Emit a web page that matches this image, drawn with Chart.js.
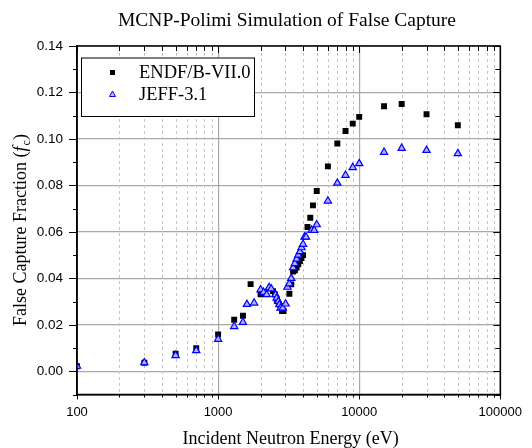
<!DOCTYPE html>
<html><head><meta charset="utf-8">
<script src="https://cdn.jsdelivr.net/npm/chart.js@4.4.1/dist/chart.umd.min.js"></script>
<style>html,body{margin:0;padding:0;background:#fff}</style>
</head><body>
<canvas id="c" width="532" height="448"></canvas>
<script>
const chartTitle = 'MCNP-Polimi Simulation of False Capture';
const xAxisTitle = 'Incident Neutron Energy (eV)';
const yAxisTitle = 'False Capture Fraction (';
const seriesNames = ['ENDF/B-VII.0', 'JEFF-3.1'];

const endfEnergy = [100, 300, 500, 700, 1000, 1300, 1500, 1700, 2000, 2100,
  2450, 2530, 2610, 2690, 2770, 2840, 2910, 3200, 3300, 3400,
  3500, 3600, 3700, 3800, 3900, 4000, 4300, 4500, 4700, 5000,
  6000, 7000, 8000, 9000, 10000, 15000, 20000, 30000, 50000];
const endfFraction = [0.0022, 0.0037, 0.0075, 0.0099, 0.0158, 0.0222, 0.0239, 0.0375, 0.0331, 0.0336,
  0.0345, 0.0331, 0.0308, 0.0290, 0.0276, 0.0259, 0.0259, 0.0334, 0.0374, 0.0429,
  0.0435, 0.0446, 0.0461, 0.0475, 0.0487, 0.0500, 0.0621, 0.0661, 0.0714, 0.0776,
  0.0882, 0.0980, 0.1034, 0.1066, 0.1095, 0.1141, 0.1150, 0.1106, 0.1059];

const jeffEnergy = [100, 300, 500, 700, 1000, 1300, 1500, 1600, 1800, 2000,
  2100, 2210, 2300, 2380, 2550, 2600, 2670, 2720, 2770, 2870,
  3010, 3100, 3200, 3300, 3400, 3500, 3600, 3700, 3800, 3900,
  4000, 4100, 4200, 4600, 4800, 5000, 6000, 7000, 8000, 9000,
  10000, 15000, 20000, 30000, 50000];
const jeffFraction = [0.0022, 0.0037, 0.0068, 0.0089, 0.0138, 0.0193, 0.0211, 0.0288, 0.0294, 0.0351,
  0.0340, 0.0330, 0.0361, 0.0355, 0.0330, 0.0315, 0.0301, 0.0287, 0.0272, 0.0272,
  0.0290, 0.0362, 0.0377, 0.0400, 0.0446, 0.0464, 0.0483, 0.0500, 0.0515, 0.0532,
  0.0547, 0.0578, 0.0578, 0.0607, 0.0607, 0.0631, 0.0733, 0.0810, 0.0844, 0.0877,
  0.0894, 0.0943, 0.0960, 0.0951, 0.0937];

const xTickValues = [100, 200, 300, 400, 500, 600, 700, 800, 900,
  1000, 2000, 3000, 4000, 5000, 6000, 7000, 8000, 9000,
  10000, 20000, 30000, 40000, 50000, 60000, 70000, 80000, 90000, 100000];
const xTickLabels = {100: '100', 1000: '1000', 10000: '10000', 100000: '100000'};
const yTickValues = [-0.01, 0.00, 0.01, 0.02, 0.03, 0.04, 0.05, 0.06, 0.07, 0.08, 0.09, 0.10, 0.11, 0.12, 0.13, 0.14];
const yTickLabels = ['', '0.00', '', '0.02', '', '0.04', '', '0.06', '', '0.08', '', '0.10', '', '0.12', '', '0.14'];

const SERIF = '"Liberation Serif", "Times New Roman", serif';
const SANS = '"Liberation Sans", Arial, sans-serif';
const isDecade = v => Math.abs(Math.log10(v) - Math.round(Math.log10(v))) < 1e-9;
const isMajorY = v => Math.round(v * 100) % 2 === 0;

const toPoints = (xs, ys) => xs.map((x, i) => ({x, y: ys[i]}));

const decor = {
  id: 'decor',
  beforeDatasetsDraw(chart) {
    const {ctx, chartArea: a, scales: {x}} = chart;
    ctx.save();
    ctx.strokeStyle = '#c6c6c6';
    ctx.lineWidth = 1;
    ctx.setLineDash([3, 3]);
    x.ticks.forEach(t => {
      if (isDecade(t.value)) return;
      const px = Math.round(x.getPixelForValue(t.value)) + 0.5;
      ctx.beginPath(); ctx.moveTo(px, a.top + 1); ctx.lineTo(px, a.bottom - 1); ctx.stroke();
    });
    ctx.restore();
  },
  afterDatasetsDraw(chart) {
    const {ctx, chartArea: a, scales: {x, y}} = chart;
    ctx.save();
    ctx.strokeStyle = '#000';
    ctx.lineWidth = 1.5;
    ctx.strokeRect(a.left, a.top, a.right - a.left, a.bottom - a.top);
    ctx.lineWidth = 1;
    ctx.beginPath();
    y.ticks.forEach(t => {
      const py = Math.round(y.getPixelForValue(t.value)) + 0.5;
      const major = isMajorY(t.value);
      ctx.moveTo(a.left, py); ctx.lineTo(a.left - (major ? 8 : 4), py);
      ctx.moveTo(a.right, py); ctx.lineTo(a.right - (major ? 7 : 5), py);
    });
    x.ticks.forEach(t => {
      const px = Math.round(x.getPixelForValue(t.value)) + 0.5;
      const major = isDecade(t.value);
      ctx.moveTo(px, a.bottom); ctx.lineTo(px, a.bottom + (major ? 5 : 3));
      ctx.moveTo(px, a.top); ctx.lineTo(px, a.top + (major ? 7 : 5));
    });
    ctx.stroke();
    ctx.restore();
  },
  afterDraw(chart) {
    const {ctx, chartArea: a} = chart;
    ctx.save();
    ctx.fillStyle = '#000';
    // main title
    ctx.font = '19.5px ' + SERIF;
    ctx.textAlign = 'center';
    ctx.textBaseline = 'alphabetic';
    ctx.fillText(chartTitle, 287, 26);
    // x title
    ctx.font = '18px ' + SERIF;
    ctx.fillText(xAxisTitle, (a.left + a.right) / 2 + 2, 444);
    // y title (rotated, with italic f and subscript c)
    ctx.save();
    ctx.translate(26, 230);
    ctx.rotate(-Math.PI / 2);
    ctx.textAlign = 'left';
    const fN = '18px ' + SERIF, fI = 'italic 18px ' + SERIF, fS = '12px ' + SERIF;
    ctx.font = fN; const w1 = ctx.measureText(yAxisTitle).width;
    ctx.font = fI; const w2 = ctx.measureText('f').width + 1;
    ctx.font = fS; const w3 = ctx.measureText('c').width;
    ctx.font = fN; const w4 = ctx.measureText(')').width;
    let cx = -(w1 + w2 + w3 + w4) / 2;
    ctx.font = fN; ctx.fillText(yAxisTitle, cx, 0); cx += w1;
    ctx.font = fI; ctx.fillText('f', cx, 0); cx += w2;
    ctx.font = fS; ctx.fillText('c', cx, 4); cx += w3;
    ctx.font = fN; ctx.fillText(')', cx, 0);
    ctx.restore();
    // legend
    const lx = 81, ly = 57.5, lw = 173, lh = 58.5;
    ctx.fillStyle = '#fff';
    ctx.fillRect(lx, ly, lw, lh);
    ctx.strokeStyle = '#000';
    ctx.lineWidth = 1;
    ctx.strokeRect(lx + 0.5, ly + 0.5, lw, lh);
    ctx.fillStyle = '#000';
    ctx.fillRect(110, 70, 5, 5);
    ctx.beginPath();
    ctx.moveTo(112.5, 91); ctx.lineTo(115.5, 96.5); ctx.lineTo(109.5, 96.5); ctx.closePath();
    ctx.fillStyle = '#b8b8ff'; ctx.fill();
    ctx.strokeStyle = '#0000ff'; ctx.lineWidth = 1; ctx.stroke();
    ctx.fillStyle = '#000';
    ctx.font = '18.5px ' + SERIF;
    ctx.textAlign = 'left';
    ctx.textBaseline = 'middle';
    ctx.fillText(seriesNames[0], 139, 73);
    ctx.fillText(seriesNames[1], 139, 95);
    ctx.restore();
  }
};

new Chart(document.getElementById('c'), {
  type: 'scatter',
  data: {
    datasets: [
      {
        label: seriesNames[0],
        data: toPoints(endfEnergy, endfFraction),
        pointStyle: 'rect',
        pointRadius: 4.2,
        pointHoverRadius: 4.2,
        backgroundColor: '#000',
        borderColor: '#000',
        borderWidth: 0,
        order: 2
      },
      {
        label: seriesNames[1],
        data: toPoints(jeffEnergy, jeffFraction),
        pointStyle: 'triangle',
        pointRadius: 4.2,
        pointHoverRadius: 4.2,
        backgroundColor: '#b0b0ff',
        borderColor: '#0000ff',
        borderWidth: 1.2,
        order: 1
      }
    ]
  },
  options: {
    responsive: false,
    animation: false,
    devicePixelRatio: 1,
    layout: {padding: {top: 46, right: 25.5, bottom: 0, left: 0}},
    plugins: {legend: {display: false}, title: {display: false}, tooltip: {enabled: false}},
    scales: {
      x: {
        type: 'logarithmic',
        position: 'bottom',
        min: 100,
        max: 100000,
        afterBuildTicks: s => { s.ticks = xTickValues.map(v => ({value: v, major: isDecade(v)})); },
        afterFit: s => { s.height = 53.5; },
        ticks: {
          autoSkip: false,
          maxRotation: 0,
          padding: 10,
          color: '#000',
          font: {family: SANS, size: 13},
          callback: v => xTickLabels[v] || ''
        },
        grid: {
          drawTicks: false,
          lineWidth: 1.2,
          color: c => (c.tick && isDecade(c.tick.value)) ? '#a8a8a8' : 'rgba(0,0,0,0)'
        },
        border: {display: true, color: '#000', width: 1.5}
      },
      y: {
        type: 'linear',
        position: 'left',
        min: -0.01,
        max: 0.14,
        afterBuildTicks: s => { s.ticks = yTickValues.map(v => ({value: v})); },
        afterFit: s => { s.width = 77; },
        ticks: {
          autoSkip: false,
          padding: 14,
          color: '#000',
          font: {family: SANS, size: 13.5},
          callback: (v, i) => yTickLabels[i]
        },
        grid: {
          drawTicks: false,
          lineWidth: 1.2,
          color: c => (c.tick && c.tick.value > -0.005 && isMajorY(c.tick.value)) ? '#a8a8a8' : 'rgba(0,0,0,0)'
        },
        border: {display: true, color: '#000', width: 1.5}
      }
    }
  },
  plugins: [decor]
});
</script>
</body></html>
